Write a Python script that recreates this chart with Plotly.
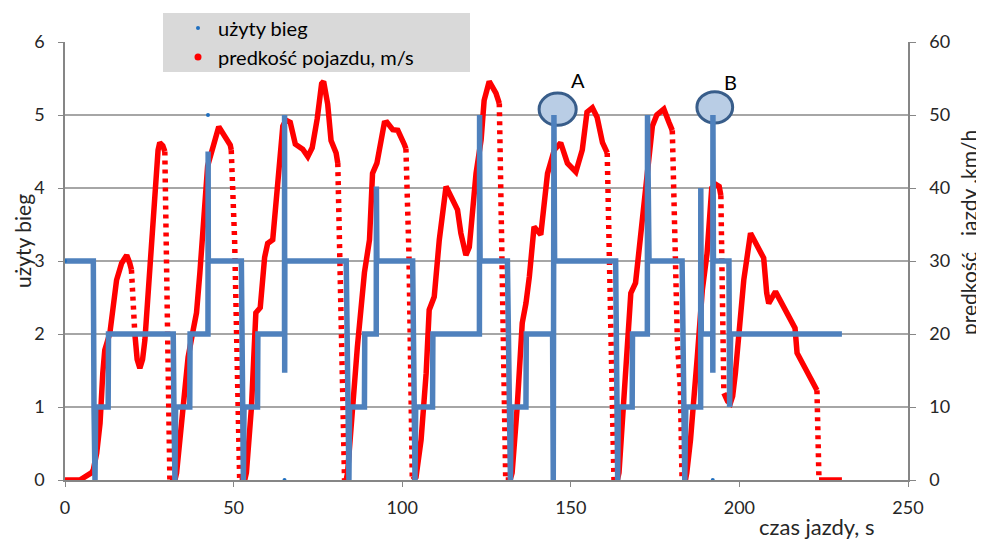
import plotly.graph_objects as go

# ---------------- data ----------------
# vehicle speed (km/h, right axis) vs time (s)
speed_t = [0, 4.4, 7.9, 8.4, 9.4, 10.4, 11.2, 11.8, 13.3, 14.3, 15.3, 16.8, 18.3, 19.2, 19.7,
           20.7, 21.4, 22.2, 23.0, 23.7, 24.7, 26.1, 27.6, 28.1, 29.0, 29.6, 31.1,
           32.6, 33.1, 34.0, 35.0, 36.5, 38.0, 39.0, 40.0, 41.4, 41.9, 42.3, 45.6, 49.0, 49.3, 50.3, 51.8,
           53.3, 53.8, 55.3, 56.6, 57.9, 59.2, 60.1, 61.6, 63.1, 64.6, 65.5, 66.8, 68.3, 69.6, 70.5,
           72.0, 73.3, 74.8, 76.1, 76.7, 77.9, 78.9, 80.4, 80.9, 81.5, 81.9, 82.9,
           83.4, 83.8, 85.3, 86.7, 88.8, 90.3, 91.2, 92.5, 94.7, 95.5, 97.2, 98.7, 100.7, 101.1, 102.0, 103.0,
           104.1, 105.6, 107.1, 108.0, 109.5, 111.0, 113.0, 114.5, 116.4, 117.4, 118.9, 119.9, 121.9,
           123.4, 124.3, 125.8, 127.8, 128.8, 129.7, 130.7,
           132.0, 132.6, 134.1, 135.6, 136.7, 137.7, 139.1, 141.1, 143.1, 145.1, 147.0, 149.0, 151.5,
           153.4, 154.8, 156.4, 157.8, 159.4, 160.8, 161.8, 162.8,
           163.8, 164.3, 165.2, 166.7, 167.8, 169.2, 171.5, 173.0, 174.2, 175.5, 177.6, 179.1, 180.1,
           181.6, 182.5, 183.0,
           184.0, 184.4, 185.5, 187.5, 189.0, 190.4, 191.8, 193.0, 194.0, 194.5, 195.4, 196.5, 197.3,
           198.0, 198.8, 200.3, 201.3, 203.3, 205.2, 207.2, 208.1, 208.7, 210.7, 216.5, 217.1, 223.0,
           223.6, 230.4]
speed_v = [0, 0, 1.0, 1.4, 3.7, 7.8, 14.6, 17.8, 20.1, 23.7, 27.4, 29.7, 30.8, 29.7, 28.8,
           20.1, 16.5, 15.3, 16.5, 19.2, 25.6, 36.6, 45.2, 46.2, 45.8, 45.0, 0,
           0, 1.0, 5.5, 10.0, 16.8, 20.5, 22.9, 28.4, 38.8, 42.5, 43.0, 48.4, 45.9, 45.2, 32.9, 0,
           0, 1.0, 10.0, 22.9, 23.6, 30.5, 32.4, 32.9, 40.7, 48.5, 49.3, 49.0, 46.0, 45.7, 45.3,
           44.3, 45.5, 49.5, 54.3, 54.6, 51.5, 46.5, 44.8, 43.4, 28.4, 23.7, 0,
           0, 1.0, 10.0, 18.2, 28.4, 32.9, 42.0, 43.4, 48.9, 49.0, 48.0, 47.9, 45.9, 45.4, 31.0, 0,
           0.4, 5.5, 14.6, 23.3, 25.1, 32.9, 40.2, 38.8, 37.0, 33.8, 30.8, 31.9, 42.0,
           46.6, 52.0, 54.6, 53.0, 51.6, 30.1, 0,
           0, 1.0, 10.0, 21.5, 24.2, 27.8, 34.7, 33.6, 42.0, 45.2, 46.2, 43.4, 42.2,
           45.2, 50.4, 51.0, 49.7, 46.2, 44.8, 19.2, 0,
           0, 1.0, 7.8, 19.2, 25.6, 27.0, 37.5, 43.5, 48.5, 50.0, 50.8, 49.0, 47.9,
           19.2, 12.3, 0,
           0, 1.0, 5.5, 16.8, 26.0, 31.0, 40.0, 40.5, 40.2, 39.0, 11.9, 10.8, 10.5,
           11.5, 14.6, 21.5, 27.4, 33.8, 32.0, 30.4, 25.6, 24.2, 25.8, 20.8, 17.4, 12.3,
           0, 0]

# gear used (left axis) vs time (s)
gear_t = [0, 8.4, 8.6, 8.9, 9.1, 12.8, 12.9, 32.1, 32.3, 32.6, 32.8, 37.0, 37.1, 42.4, 42.45, 42.5,
          52.3, 52.6, 52.9, 53.1, 57.1, 57.2, 65.1, 65.12, 65.15, 65.2, 83.4, 83.8, 84.2, 84.4,
          88.8, 88.9, 92.3, 92.35, 92.5, 103.1, 103.4, 103.8, 104.0, 109.0, 109.1, 122.9, 122.95,
          123.1, 131.2, 131.6, 132.1, 132.3, 136.7, 136.8, 144.6, 144.8, 145.0, 145.2, 163.3, 163.6,
          163.9, 164.1, 168.2, 168.3, 172.7, 172.75, 173.2, 183.0, 183.4, 183.8, 184.1, 188.5,
          188.55, 188.7, 192.1, 192.12, 192.15, 192.3, 196.9, 197.1, 197.4, 230.4]
gear_v = [3, 3, 1, 0, 1, 1, 2, 2, 1, 0, 1, 1, 2, 2, 4.5, 3,
          3, 1, 0, 1, 1, 2, 2, 5, 1.47, 3, 3, 1, 0, 1,
          1, 2, 2, 4.02, 3, 3, 2, 0, 1, 1, 2, 2, 5,
          3, 3, 1, 0, 1, 1, 2, 2, 0, 5, 3, 3, 1,
          0, 1, 1, 2, 2, 5, 3, 3, 2, 0, 1, 1,
          4, 2, 2, 1.47, 5, 3, 3, 1, 2, 2]

# isolated gear samples shown as single markers
gear_dot_t = [0, 42.4, 65.1, 192.1]
gear_dot_v = [3, 5, 0, 0]

x_ticks = [0, 50, 100, 150, 200, 250]
gear_ticks = [0, 1, 2, 3, 4, 5, 6]
speed_ticks = [0, 10, 20, 30, 40, 50, 60]

# ---------------- split speed into solid / sparse (dotted) runs ----------------
solid_x, solid_y, dot_x, dot_y = [], [], [], []
runs = []
for i in range(len(speed_t) - 1):
    slope = (speed_v[i + 1] - speed_v[i]) / (speed_t[i + 1] - speed_t[i])
    kind = 'dot' if slope < -6 else 'solid'
    if runs and runs[-1][0] == kind:
        runs[-1][1].append(i + 1)
    else:
        runs.append([kind, [i, i + 1]])
for kind, idx in runs:
    xs = [speed_t[j] for j in idx] + [None]
    ys = [speed_v[j] for j in idx] + [None]
    if kind == 'dot':
        dot_x += xs; dot_y += ys
    else:
        solid_x += xs; solid_y += ys

RED = '#FF0000'
BLUE = '#4F81BD'
FONT = 'Lato, Open Sans, sans-serif'
TXT = '#262626'
AX = '#868686'

fig = go.Figure()
fig.add_trace(go.Scatter(x=solid_x, y=solid_y, mode='lines', yaxis='y',
                         line=dict(color=RED, width=5.5), showlegend=False, hoverinfo='skip'))
fig.add_trace(go.Scatter(x=dot_x, y=dot_y, mode='lines', yaxis='y',
                         line=dict(color=RED, width=5.5, dash='4px,5px'), showlegend=False,
                         hoverinfo='skip'))
fig.add_trace(go.Scatter(x=gear_t, y=gear_v, mode='lines', yaxis='y2',
                         line=dict(color=BLUE, width=5.5), showlegend=False))
fig.add_trace(go.Scatter(x=gear_dot_t, y=gear_dot_v, mode='markers', yaxis='y2',
                         marker=dict(color='#1F6FC0', size=4), name='użyty bieg'))
fig.add_trace(go.Scatter(x=[None], y=[None], mode='markers', yaxis='y',
                         marker=dict(color=RED, size=7), name='predkość pojazdu, m/s'))

# the page body has an 8px margin on every side: the figure fills the rest
OFF = 8
W, H = 984 - OFF, 549 - 2 * OFF
L, T = 65 - OFF, 42 - OFF
R = OFF + W - 908
B = OFF + H - 480
pw, ph = W - L - R, H - T - B


def px(xp):  # page pixel -> paper x
    return (xp - OFF - L) / pw


def py(yp):  # page pixel -> paper y
    return (OFF + T + ph - yp) / ph


shapes = [
    dict(type='rect', xref='paper', yref='paper', x0=px(163), x1=px(470), y0=py(72), y1=py(13),
         fillcolor='#D9D9D9', line=dict(width=0), layer='above'),
    dict(type='circle', xref='x', yref='y', x0=140.6, x1=151.6, y0=48.6, y1=53.0,
         fillcolor='#B9CDE5', line=dict(color='#385D8A', width=3), layer='between'),
    dict(type='circle', xref='x', yref='y', x0=187.4, x1=198.0, y0=48.9, y1=53.2,
         fillcolor='#B9CDE5', line=dict(color='#385D8A', width=3), layer='between'),
]


def note(text, xp, yp, size, angle=0, color=TXT):
    return dict(text=text, x=px(xp), y=py(yp), xref='paper', yref='paper', showarrow=False,
                xanchor='center', yanchor='middle', textangle=angle,
                font=dict(size=size, color=color, family=FONT))


annotations = [
    note('A', 578, 80, 20, color='#000000'),
    note('B', 730, 82, 20, color='#000000'),
    note('użyty bieg', 22, 241, 21, angle=-90),
    note('prędkość\u00a0\u00a0\u00a0jazdy ,km/h', 968, 233, 21, angle=-90),
    note('czas jazdy, s', 817, 526, 22),
]

fig.update_layout(
    width=W, height=H,
    margin=dict(l=L, r=R, t=T, b=B, autoexpand=False),
    paper_bgcolor='white', plot_bgcolor='white',
    font=dict(family=FONT, color=TXT, size=18),
    shapes=shapes, annotations=annotations,
    showlegend=True,
    legend=dict(x=px(178), y=py(8.5), xanchor='left', yanchor='top',
                bgcolor='rgba(0,0,0,0)', font=dict(size=20, color='#000000', family=FONT),
                traceorder='normal'),
    xaxis=dict(range=[0, 250], tickvals=x_ticks, showline=True, linecolor=AX, linewidth=1.5,
               ticks='outside', ticklen=5, tickcolor=AX, showgrid=False, zeroline=False,
               tickfont=dict(size=18, color=TXT), ticklabelstandoff=6),
    yaxis=dict(range=[0, 60], tickvals=speed_ticks, side='right', showline=True, linecolor=AX,
               linewidth=1.5, ticks='outside', ticklen=6, tickcolor=AX, showgrid=True,
               gridcolor='#A6A6A6', gridwidth=1.5, zeroline=False,
               tickfont=dict(size=18, color=TXT), ticklabelstandoff=10),
    yaxis2=dict(range=[0, 6], tickvals=gear_ticks, side='left', overlaying='y', showline=True,
                linecolor=AX, linewidth=1.5, ticks='outside', ticklen=5, tickcolor=AX,
                showgrid=False, zeroline=False, tickfont=dict(size=18, color=TXT),
                ticklabelstandoff=10),
)

fig.write_html('out.html')
